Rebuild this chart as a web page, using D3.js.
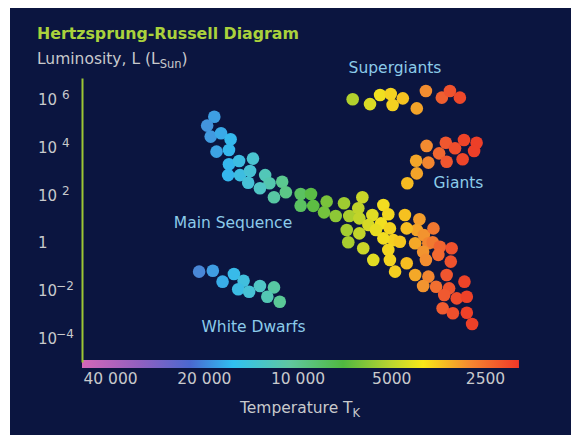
<!DOCTYPE html>
<html>
<head>
<meta charset="utf-8">
<script src="https://cdn.jsdelivr.net/npm/d3@7"></script>
<style>
  body { margin: 0; background: #ffffff; }
  text { font-family: "DejaVu Sans", sans-serif; }
</style>
</head>
<body>
<div id="chart"></div>
<script>
'use strict';

// temperatures in kelvin, luminosity as log10(L / L_sun)
var mainSeqTemp = [18500, 19500, 19000, 17600, 16400, 18200, 16600, 16600, 15400, 13900,
    16700, 15300, 14200, 14400, 12700, 12300, 13200, 11200, 10900, 11900,
    9770, 9770, 9050, 8900,
    6190, 7090, 8060, 8220, 7540, 6820, 6380, 6330, 5750, 5300,
    5110, 5390, 5920, 6950, 6870, 6330, 6150, 5710, 5600, 5050,
    4920, 5300, 4690, 5110, 5050, 4460, 4860, 4520, 4060, 4140,
    4460, 4190, 3930, 3660, 3800, 3950, 3680, 3490, 3200, 3220,
    3530, 3870, 4190, 3800, 3950, 3590, 3320, 3260, 3380, 2910,
    3080, 2860, 3420, 3170, 2860, 2750];
var mainSeqLum = [5.24, 4.87, 4.41, 4.55, 4.30, 3.78, 3.85, 3.25, 3.39, 3.49,
    2.80, 2.80, 2.97, 2.48, 2.80, 2.46, 2.25, 2.52, 2.08, 1.87,
    2.01, 1.52, 2.01, 1.51,
    1.87, 1.62, 1.69, 1.24, 1.09, 1.09, 1.41, 0.99, 1.13, 1.55,
    1.16, 0.78, 0.71, 0.50, -0.01, 0.36, -0.26, -0.75, 0.50, 0.57,
    0.08, 0.15, 0.01, -0.33, -0.75, -0.89, -1.24, 1.13, 0.95, 0.50,
    0.57, -0.05, 0.29, 0.57, -0.05, -0.41, -0.01, -0.20, -0.26, -0.82,
    -0.54, -0.75, -1.38, -1.45, -1.84, -1.87, -1.38, -1.94, -2.22, -1.66,
    -2.36, -2.29, -2.77, -2.98, -2.96, -3.43];

var giantTemp = [3850, 3340, 3120, 2920, 2660, 2710, 3510, 3320, 2950, 3800, 4160, 4140, 4440];
var giantLum  = [4.02, 4.15, 3.92, 4.27, 4.15, 3.81, 3.71, 3.36, 3.46, 3.32, 3.40, 2.87, 2.46];

var superTemp = [6650, 5850, 5430, 5020, 4950, 4590, 4140, 3870, 3440, 3240, 3010];
var superLum  = [5.97, 5.77, 6.15, 6.19, 5.73, 6.01, 5.59, 6.32, 6.04, 6.32, 6.04];

var dwarfTemp = [20700, 18700, 17400, 16000, 14900, 15500, 14300, 13200, 11900, 12500, 11400];
var dwarfLum  = [-1.24, -1.20, -1.66, -1.34, -1.62, -1.98, -2.08, -1.84, -1.90, -2.29, -2.50];

var xTicks = [40000, 20000, 10000, 5000, 2500];
var xTickLabels = ["40 000", "20 000", "10 000", "5000", "2500"];
var yTicks = [6, 4, 2, 0, -2, -4];
var groupNames = ["Supergiants", "Giants", "Main Sequence", "White Dwarfs"];

// star colour by temperature
var starColorTemps = [48000, 30000, 21000, 16500, 13500, 11000, 9000, 7000, 5400, 4500, 3900, 3400, 2900, 2000];
var starColors = ["#d066b8", "#8a60c8", "#4a84d6", "#34b8ee", "#4ec6cc", "#5cc88a", "#5abc44",
    "#a2cc30", "#f2e020", "#f6c020", "#f29030", "#f05a30", "#ee4228", "#ea3428"];
// colour bar along the temperature axis
var barColorTemps = [49200, 32000, 22100, 16100, 10600, 7140, 5050, 3950, 2790, 1945];
var barColors = ["#d467b8", "#9060c0", "#4a68d0", "#30c0f0", "#60c8a0", "#50b840", "#b8d430",
    "#f8e818", "#f58830", "#f03828"];

function hrDiagram(){
    var scope = {};
    var exports = {};

    scope.cw = 571;
    scope.ch = 435;
    scope.radius = 6.3;
    scope.axisX = 82;
    scope.barTop = 360;
    scope.barHeight = 8;
    scope.textColor = "#c8c9cc";
    scope.labelColor = "#8ccbea";
    scope.xScale = undefined;
    scope.yScale = undefined;
    scope.color = undefined;
    scope.stars = [];

    scope.appendSvg = function(div)
    {
        var node = d3.select(div).append("svg")
            .attr("width", scope.cw)
            .attr("height", scope.ch);

        node.append("rect")
            .attr("x", 10)
            .attr("y", 8)
            .attr("width", scope.cw - 10)
            .attr("height", scope.ch - 8)
            .attr("fill", "#0b1540");

        return node;
    }

    scope.createScales = function()
    {
        scope.xScale = d3.scaleLog()
            .domain([40000, 2500])
            .range([110, 485]);

        // log10 L = 6.862 at the top of the axis line, -5.021 at its foot
        scope.yScale = d3.scaleLog()
            .domain([Math.pow(10, -5.021), Math.pow(10, 6.862)])
            .range([362, 78]);

        scope.color = d3.scaleLog()
            .domain(starColorTemps)
            .range(starColors)
            .interpolate(d3.interpolateRgb)
            .clamp(true);
    }

    scope.appendTitles = function(svg)
    {
        svg.append("text")
            .attr("x", 37)
            .attr("y", 39)
            .attr("font-size", 15.8)
            .attr("font-weight", "bold")
            .attr("fill", "#aad23c")
            .text("Hertzsprung-Russell Diagram");

        var lum = svg.append("text")
            .attr("x", 37)
            .attr("y", 64)
            .attr("font-size", 15.5)
            .attr("fill", scope.textColor);
        lum.append("tspan").text("Luminosity, L (L");
        lum.append("tspan").attr("font-size", 11.5).attr("dy", 4).text("Sun");
        lum.append("tspan").attr("dy", -4).text(")");

        var temp = svg.append("text")
            .attr("x", 240)
            .attr("y", 413)
            .attr("font-size", 15.5)
            .attr("fill", scope.textColor);
        temp.append("tspan").text("Temperature T");
        temp.append("tspan").attr("font-size", 11.5).attr("dy", 4).text("K");
    }

    scope.appendColorBar = function(svg)
    {
        var x0 = scope.xScale(barColorTemps[0]);
        var x1 = scope.xScale(barColorTemps[barColorTemps.length - 1]);

        var grad = svg.append("defs").append("linearGradient")
            .attr("id", "tempGradient")
            .attr("x1", "0%").attr("x2", "100%")
            .attr("y1", "0%").attr("y2", "0%");

        grad.selectAll("stop")
            .data(barColorTemps)
            .enter().append("stop")
            .attr("offset", function(d) { return ((scope.xScale(d) - x0) / (x1 - x0) * 100) + "%"; })
            .attr("stop-color", function(d, i) { return barColors[i]; });

        svg.append("rect")
            .attr("x", x0)
            .attr("y", scope.barTop)
            .attr("width", x1 - x0)
            .attr("height", scope.barHeight)
            .attr("fill", "url(#tempGradient)");
    }

    scope.appendAxes = function(svg)
    {
        var yAxis = d3.axisLeft(scope.yScale)
            .tickValues(yTicks.map(function(d) { return Math.pow(10, d); }))
            .tickSize(0)
            .tickFormat("");

        var yGroup = svg.append("g")
            .attr("transform", "translate(" + scope.axisX + ",0)")
            .call(yAxis);

        yGroup.select(".domain")
            .attr("stroke", "#9cc634")
            .attr("stroke-width", 2);

        yGroup.selectAll(".tick text")
            .attr("x", -44)
            .attr("dy", null)
            .attr("y", 6)
            .attr("text-anchor", "start")
            .attr("font-size", 15)
            .attr("font-family", "DejaVu Sans, sans-serif")
            .attr("fill", scope.textColor)
            .each(function(d, i) {
                var t = d3.select(this);
                var p = yTicks[i];
                if (p === 0) {
                    t.append("tspan").text("1");
                    return;
                }
                t.append("tspan").text("10");
                t.append("tspan")
                    .attr("dx", p > 0 ? 5 : -1)
                    .attr("dy", -6)
                    .attr("font-size", 12)
                    .text(p > 0 ? String(p) : "\u2212" + String(-p));
            });

        var xAxis = d3.axisBottom(scope.xScale)
            .tickValues(xTicks)
            .tickSize(0)
            .tickPadding(5)
            .tickFormat(function(d, i) { return xTickLabels[i]; });

        var xGroup = svg.append("g")
            .attr("transform", "translate(0," + (scope.barTop + scope.barHeight) + ")")
            .call(xAxis);

        xGroup.select(".domain").remove();
        xGroup.selectAll(".tick text")
            .attr("font-size", 15.5)
            .attr("font-family", "DejaVu Sans, sans-serif")
            .attr("fill", scope.textColor);
    }

    // builds one list out of the four groups
    scope.separate = function(temps, lums, group)
    {
        temps.forEach(function(t, i) {
            scope.stars.push({temp: t, lum: Math.pow(10, lums[i]), group: group});
        });
    }

    scope.appendStars = function(svg)
    {
        svg.append("g")
            .selectAll("circle")
            .data(scope.stars)
            .enter().append("circle")
            .attr("cx", function(d) { return scope.xScale(d.temp); })
            .attr("cy", function(d) { return scope.yScale(d.lum); })
            .attr("r", scope.radius)
            .attr("fill", function(d) { return scope.color(d.temp); });
    }

    scope.appendLabels = function(svg)
    {
        var spots = [[395, 73], [458.5, 188], [233, 228], [253.5, 331.5]];

        svg.append("g")
            .selectAll("text")
            .data(groupNames)
            .enter().append("text")
            .attr("x", function(d, i) { return spots[i][0]; })
            .attr("y", function(d, i) { return spots[i][1]; })
            .attr("text-anchor", "middle")
            .attr("font-size", 15.5)
            .attr("fill", scope.labelColor)
            .text(function(d) { return d; });
    }

    exports.run = function(div)
    {
        scope.separate(superTemp, superLum, groupNames[0]);
        scope.separate(giantTemp, giantLum, groupNames[1]);
        scope.separate(mainSeqTemp, mainSeqLum, groupNames[2]);
        scope.separate(dwarfTemp, dwarfLum, groupNames[3]);

        var svg = scope.appendSvg(div);
        scope.createScales();
        scope.appendTitles(svg);
        scope.appendColorBar(svg);
        scope.appendAxes(svg);
        scope.appendStars(svg);
        scope.appendLabels(svg);
    }

    return exports;
}

hrDiagram().run("#chart");
</script>
</body>
</html>
